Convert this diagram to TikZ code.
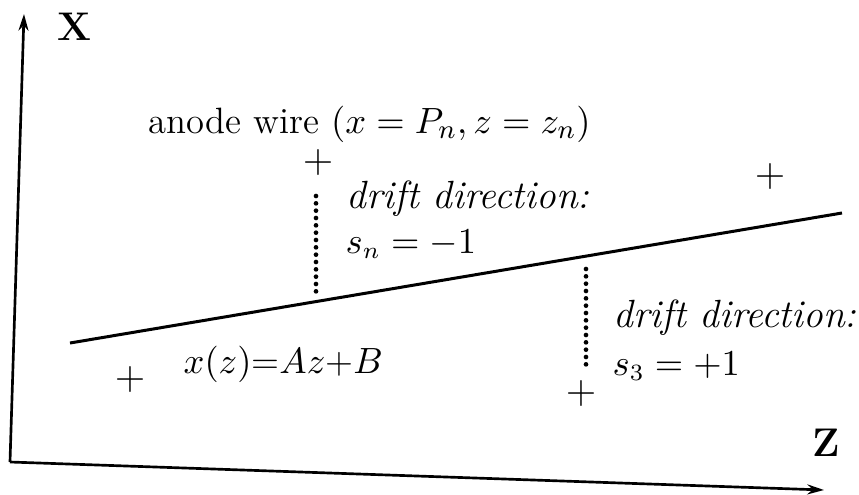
\documentclass[tikz,border=0pt]{standalone}
\usetikzlibrary{arrows.meta}
\begin{document}
\begin{tikzpicture}[x=0.3pt,y=-0.3pt,
  lbl/.style={font=\fontsize{11}{14}\selectfont, inner sep=0pt},
  itl/.style={font=\fontsize{11.8}{14}\selectfont\itshape, inner sep=0pt},
  mth/.style={font=\fontsize{10.6}{14}\selectfont, inner sep=0pt},
  wire/.style={font=\fontsize{11.5}{14}\selectfont, inner sep=0pt},
  axlbl/.style={font=\fontsize{12}{14}\selectfont\bfseries, inner sep=0pt},
  axis/.style={line width=0.8pt, -{Stealth[length=5pt,width=3pt]}},
  track/.style={line width=0.9pt},
  driftline/.style={line width=1.4pt, line cap=round, dash pattern=on 0pt off 2.2pt}]
\useasboundingbox (0,0) rectangle (859,494);
% axes
\coordinate (O) at (10,462);
\coordinate (Xtip) at (24,14);
\coordinate (Ztip) at (824,490);
\draw[axis] (O) -- (Xtip);
\draw[axis] (O) -- (Ztip);
\node[axlbl] (X) at (75,27) {X};
\node[axlbl] (Z) at (826,443) {Z};
% track line
\coordinate (T1) at (70,343);
\coordinate (T2) at (842,213);
\draw[track] (T1) -- (T2);
% wires
\node[wire] (w1) at (318,162) {$+$};
\node[wire] (w2) at (770,176) {$+$};
\node[wire] (w3) at (130,379) {$+$};
\node[wire] (w4) at (581,393) {$+$};
% drift lines
\coordinate (d1a) at (316,196);
\coordinate (d1b) at (316,292);
\coordinate (d2a) at (586,269);
\coordinate (d2b) at (586,368);
\draw[driftline] (d1a) -- (d1b);
\draw[driftline] (d2a) -- (d2b);
% labels
\node[lbl, anchor=base west] (anode) at (148,133) {anode wire $(x=P_n,z=z_n)$};
\node[itl, anchor=base west] (dd1) at (346,208) {drift direction:};
\node[mth, anchor=base west] (sn) at (345,253) {$s_n=-1$};
\node[lbl, anchor=base west] (fit) at (183,373) {$x(z)$=$Az$+$B$};
\node[itl, anchor=base west] (dd2) at (613,327) {drift direction:};
\node[mth, anchor=base west] (s3) at (612,375) {$s_3=+1$};
\end{tikzpicture}
\end{document}
